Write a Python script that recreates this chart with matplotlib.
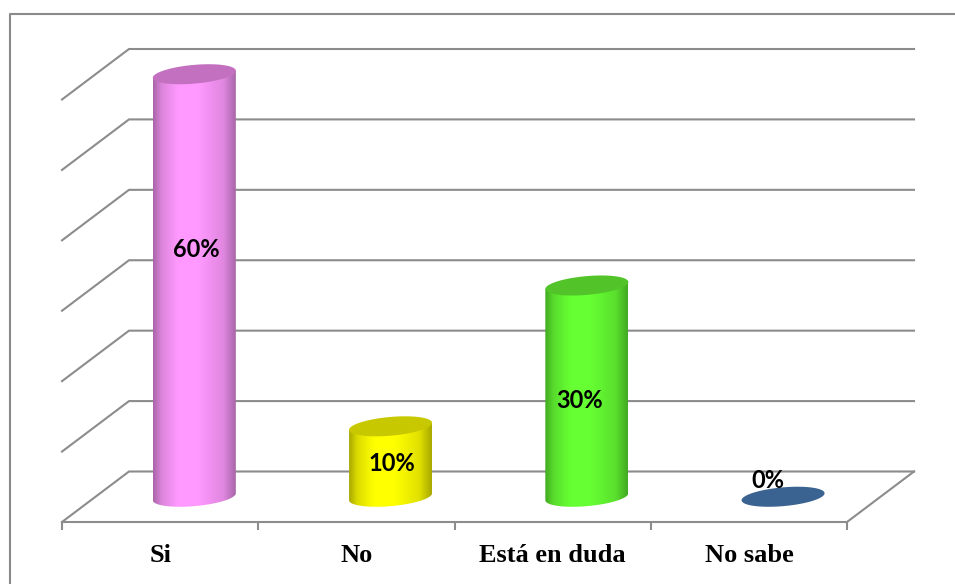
from __future__ import annotations

import matplotlib
matplotlib.use("Agg")
import matplotlib.pyplot as plt
import numpy as np
from matplotlib.colors import LinearSegmentedColormap
from matplotlib.lines import Line2D
from matplotlib.patches import Polygon

categories = ["Si", "No", "Está en duda", "No sabe"]
values = [60, 10, 30, 0]
value_labels = ["60%", "10%", "30%", "0%"]
grid_values = [0, 10, 20, 30, 40, 50, 60]

body_colors = ["#FF99FF", "#FFFF00", "#66FF33", "#3B6391"]
top_colors = ["#C470C0", "#C8C800", "#52C42A", "#3B6391"]

W, H = 955, 584
GREY = "#8C8C8C"

# pixels per data unit, the axes is placed on the front edge of the floor
SX = 785 / 4
SY = 422.5 / 60
DEPTH_X = 67 / SX
DEPTH_Y = 50.5 / SY
RAD_X = 41.5 / SX
RAD_Y = 9.4 / SY
TILT = 3.5 / SY
BAR_SHIFT = 0.7 / SX

# label offset from the top of each bar, in pixels
label_offsets = [(2, -175), (1.5, -37.5), (-7.5, -115.5), (-15, 16.5)]


def ellipse_pts(cx, cy, t):
    return np.column_stack([
        cx + RAD_X * np.cos(t),
        cy + RAD_Y * np.sin(t) + TILT * np.cos(t),
    ])


def shade_map(color):
    rgb = np.array(matplotlib.colors.to_rgb(color))
    stops = [(0.0, 0.66), (0.1, 0.86), (0.3, 1.0), (0.55, 1.0), (0.85, 0.88), (1.0, 0.66)]
    return LinearSegmentedColormap.from_list("s", [(p, tuple(rgb * k)) for p, k in stops])


def draw_cylinder(ax, x, v, body, top):
    cx = x + DEPTH_X / 2 + BAR_SHIFT
    base = DEPTH_Y / 2
    if v > 0:
        low = ellipse_pts(cx, base, np.linspace(np.pi, 2 * np.pi, 60))
        upper = ellipse_pts(cx, base + v, np.array([0.0, np.pi]))
        clip = Polygon(np.vstack([low, upper]), closed=True, transform=ax.transData,
                       facecolor="none", edgecolor="none")
        ax.add_patch(clip)
        grad = np.linspace(0, 1, 256).reshape(1, -1)
        im = ax.imshow(grad, cmap=shade_map(body), aspect="auto", interpolation="bilinear",
                       extent=(cx - RAD_X, cx + RAD_X, base - 2 * RAD_Y, base + v + RAD_Y),
                       zorder=3)
        im.set_clip_path(clip)
        im.set_clip_box(ax.figure.bbox)
    cap = Polygon(ellipse_pts(cx, base + v, np.linspace(0, 2 * np.pi, 120)), closed=True,
                  facecolor=top, edgecolor="none", zorder=4, clip_on=False)
    ax.add_patch(cap)
    return cx, base + v


fig = plt.figure(figsize=(W / 100, H / 100), dpi=100, facecolor="white")
ax = fig.add_axes([62 / W, (H - 522) / H, 785 / W, 422.5 / H])
ax.patch.set_visible(False)

# walls and floor
for g in grid_values:
    ax.plot([0, DEPTH_X, 4 + DEPTH_X], [g, g + DEPTH_Y, g + DEPTH_Y],
            color=GREY, lw=1.5, clip_on=False, zorder=1, solid_joinstyle="miter")
ax.plot([4, 4 + DEPTH_X], [0, DEPTH_Y], color=GREY, lw=1.5, clip_on=False, zorder=1)

for i, v in enumerate(values):
    cx, cy = draw_cylinder(ax, i + 0.5, v, body_colors[i], top_colors[i])
    ax.annotate(value_labels[i], xy=(cx, cy), xytext=label_offsets[i],
                textcoords="offset pixels", ha="center", va="center",
                family="Lato", fontweight="bold", fontsize=17, color="black",
                zorder=6, annotation_clip=False)

ax.set_xlim(0, 4)
ax.set_ylim(0, 60)
ax.set_xticks(range(5))
ax.set_xticks([i + 0.5 for i in range(4)], minor=True)
ax.set_xticklabels([])
ax.set_xticklabels(categories, minor=True, family="Liberation Serif",
                   fontweight="bold", fontsize=19)
ax.tick_params(axis="x", which="major", length=5.8, width=1.5, color=GREY)
ax.tick_params(axis="x", which="minor", length=0, pad=15.5)
ax.set_yticks([])
for side in ["top", "left", "right"]:
    ax.spines[side].set_visible(False)
ax.spines["bottom"].set_color(GREY)
ax.spines["bottom"].set_linewidth(1.5)

# outer frame of the chart area, runs off the picture
frame_x = [10 / W, 10 / W, 1.0]
frame_y = [0.0, 1 - 14 / H, 1 - 14 / H]
fig.add_artist(Line2D(frame_x, frame_y, color="#8A8A8A", lw=1.5, transform=fig.transFigure))

fig.savefig("out.png", dpi=100)
